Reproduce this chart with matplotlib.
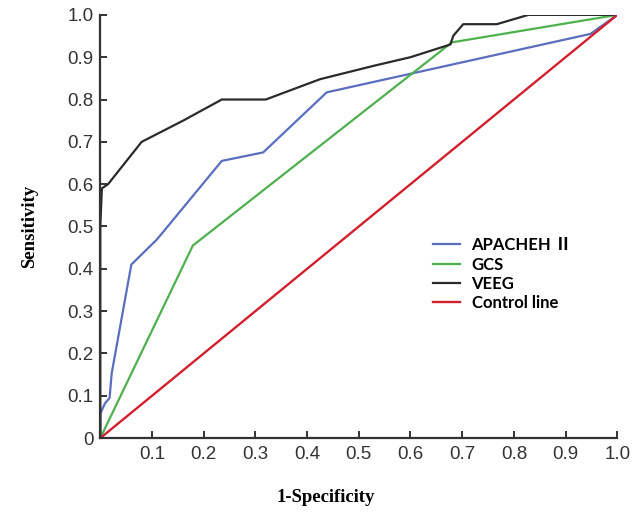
import matplotlib
matplotlib.use("Agg")
import matplotlib.pyplot as plt

# ROC curve points
veeg_x = [0, 0, 0.003, 0.015, 0.08, 0.12, 0.16, 0.235, 0.32, 0.425, 0.53, 0.60, 0.677, 0.683, 0.702, 0.767, 0.828, 1.0]
veeg_y = [0, 0.50, 0.59, 0.60, 0.70, 0.725, 0.75, 0.80, 0.80, 0.848, 0.88, 0.90, 0.93, 0.951, 0.978, 0.978, 1.0, 1.0]

apache_x = [0, 0, 0.009, 0.018, 0.022, 0.06, 0.11, 0.235, 0.315, 0.438, 0.948, 1.0]
apache_y = [0, 0.058, 0.082, 0.095, 0.153, 0.41, 0.47, 0.655, 0.675, 0.817, 0.955, 1.0]

gcs_x = [0, 0.179, 0.68, 1.0]
gcs_y = [0, 0.455, 0.935, 1.0]

control_x = [0, 1.0]
control_y = [0, 1.0]

x_ticks = [0.1, 0.2, 0.3, 0.4, 0.5, 0.6, 0.7, 0.8, 0.9, 1.0]
y_ticks = [0, 0.1, 0.2, 0.3, 0.4, 0.5, 0.6, 0.7, 0.8, 0.9, 1.0]
y_tick_labels = ["0", "0.1", "0.2", "0.3", "0.4", "0.5", "0.6", "0.7", "0.8", "0.9", "1.0"]

fig = plt.figure(figsize=(6.43, 5.13), dpi=100)
ax = fig.add_axes([0.156, 0.146, 0.804, 0.825])

ax.plot(apache_x, apache_y, color="#5a6ec0", lw=1.6, label="APACHEH \u2161")
ax.plot(gcs_x, gcs_y, color="#4fb04f", lw=1.6, label="GCS")
ax.plot(veeg_x, veeg_y, color="#2a2a2a", lw=1.6, label="VEEG")
ax.plot(control_x, control_y, color="#d2202e", lw=1.7, label="Control line")

ax.set_xlim(0, 1.0)
ax.set_ylim(0, 1.0)
ax.spines["top"].set_visible(False)
ax.spines["right"].set_visible(False)
for s in ["left", "bottom"]:
    ax.spines[s].set_linewidth(1.6)
    ax.spines[s].set_color("#333333")

ax.set_xticks(x_ticks)
ax.set_xticklabels([f"{t:.1f}" for t in x_ticks])
ax.set_yticks(y_ticks)
ax.set_yticklabels(y_tick_labels)
ax.tick_params(direction="in", length=5, width=1.4, color="#333333",
               labelsize=13.5, labelcolor="#333333")
ax.tick_params(axis="x", pad=6)
ax.tick_params(axis="y", pad=5)
for lab in ax.get_xticklabels() + ax.get_yticklabels():
    lab.set_family("Liberation Sans")

ax.set_xlabel("1-Specificity", family="Liberation Serif", fontweight="bold",
              fontsize=13.5)
ax.set_ylabel("Sensitivity", family="Liberation Serif", fontweight="bold",
              fontsize=13.5)
ax.xaxis.set_label_coords(0.435, -0.12)
ax.yaxis.set_label_coords(-0.12, 0.5)

leg = ax.legend(loc="upper left", bbox_to_anchor=(0.615, 0.51), frameon=False,
                handlelength=1.6, handletextpad=0.7, labelspacing=0.2,
                prop={"family": ["Lato", "Noto Sans CJK SC"], "weight": "bold", "size": 12})

fig.savefig("out.png", dpi=100)
